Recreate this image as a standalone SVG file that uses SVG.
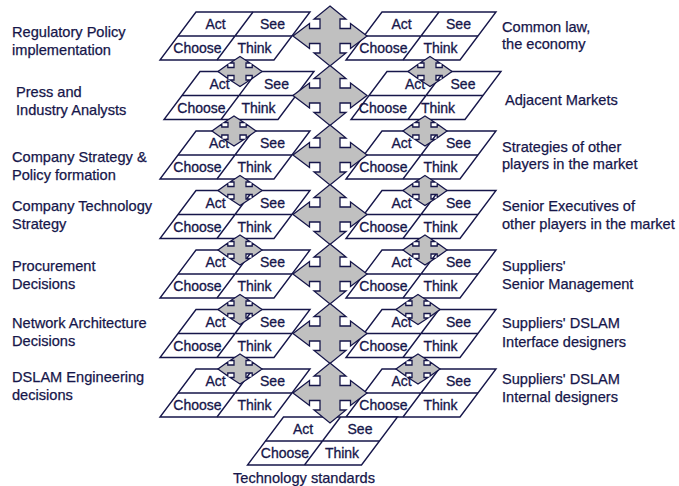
<svg xmlns="http://www.w3.org/2000/svg" xmlns:xlink="http://www.w3.org/1999/xlink" width="679" height="486" viewBox="0 0 679 486">
<style>
.t{font-family:"Liberation Sans",Arial,sans-serif;font-size:14px;fill:#16164a;stroke:#16164a;stroke-width:0.3;text-anchor:middle}
.l{font-family:"Liberation Sans",Arial,sans-serif;font-size:14.6px;fill:#16164a;stroke:#16164a;stroke-width:0.25}
.tile{fill:#fff;stroke:#16164a;stroke-width:1.4;stroke-linejoin:miter}
.tl{fill:none;stroke:#16164a;stroke-width:1.4}
.x{fill:#c0c0c0;stroke:#16164a;stroke-width:1.3;stroke-linejoin:miter}
</style>
<defs>
<g id="tile">
<path class="tile" d="M36,0 H150 L114,48 H0 Z"/>
<path class="tl" d="M18,24 H132 M93,0 L57,48"/>
</g>
<path id="big" d="M0,-30 L16,-17 L10,-17 L10,-7.5 L20.5,-7.5 L20.5,-12.5 L37,0 L20.5,12.5 L20.5,7.5 L10,7.5 L10,17 L16,17 L0,30 L-16,17 L-10,17 L-10,7.5 L-20.5,7.5 L-20.5,12.5 L-37,0 L-20.5,-12.5 L-20.5,-7.5 L-10,-7.5 L-10,-17 L-16,-17 Z"/>
<path id="small" d="M0,-15 L10,-8.5 L6,-8.5 L6,-4 L12.2,-4 L12.2,-7 L22,0 L12.2,7 L12.2,4 L6,4 L6,8.5 L10,8.5 L0,15 L-10,8.5 L-6,8.5 L-6,4 L-12.2,4 L-12.2,7 L-22,0 L-12.2,-7 L-12.2,-4 L-6,-4 L-6,-8.5 L-10,-8.5 Z"/>
</defs>

<g id="labels">
<text class="l" x="12" y="37">Regulatory Policy</text>
<text class="l" x="12" y="55">implementation</text>
<text class="l" x="16" y="97">Press and</text>
<text class="l" x="16" y="115">Industry Analysts</text>
<text class="l" x="12" y="162">Company Strategy &amp;</text>
<text class="l" x="12" y="180">Policy formation</text>
<text class="l" x="12" y="211">Company Technology</text>
<text class="l" x="12" y="229">Strategy</text>
<text class="l" x="12" y="271">Procurement</text>
<text class="l" x="12" y="289">Decisions</text>
<text class="l" x="12" y="328">Network Architecture</text>
<text class="l" x="12" y="346">Decisions</text>
<text class="l" x="12" y="382">DSLAM Engineering</text>
<text class="l" x="12" y="400">decisions</text>
<text class="l" x="502" y="32">Common law,</text>
<text class="l" x="502" y="49">the economy</text>
<text class="l" x="505" y="105">Adjacent Markets</text>
<text class="l" x="502" y="152">Strategies of other</text>
<text class="l" x="502" y="169">players in the market</text>
<text class="l" x="502" y="211">Senior Executives of</text>
<text class="l" x="502" y="229">other players in the market</text>
<text class="l" x="502" y="271">Suppliers'</text>
<text class="l" x="502" y="289">Senior Management</text>
<text class="l" x="502" y="328">Suppliers' DSLAM</text>
<text class="l" x="502" y="347">Interface designers</text>
<text class="l" x="502" y="384">Suppliers' DSLAM</text>
<text class="l" x="502" y="402">Internal designers</text>
<text class="l" x="304" y="483" text-anchor="middle">Technology standards</text>
</g>

<g id="L1" transform="translate(160,12)"><use xlink:href="#tile"/><text class="t" x="55.5" y="17">Act</text><text class="t" x="112.5" y="17">See</text><text class="t" x="37.5" y="41">Choose</text><text class="t" x="94.5" y="41">Think</text></g>
<g id="L2" transform="translate(164,71.5)"><use xlink:href="#tile"/><text class="t" x="55.5" y="17">Act</text><text class="t" x="112.5" y="17">See</text><text class="t" x="37.5" y="41">Choose</text><text class="t" x="94.5" y="41">Think</text></g>
<g id="L3" transform="translate(160,131)"><use xlink:href="#tile"/><text class="t" x="59" y="17">Act</text><text class="t" x="112.5" y="17">See</text><text class="t" x="37.5" y="41">Choose</text><text class="t" x="94.5" y="41">Think</text></g>
<g id="L4" transform="translate(160,190.5)"><use xlink:href="#tile"/><text class="t" x="55.5" y="17">Act</text><text class="t" x="112.5" y="17">See</text><text class="t" x="37.5" y="41">Choose</text><text class="t" x="94.5" y="41">Think</text></g>
<g id="L5" transform="translate(160,250)"><use xlink:href="#tile"/><text class="t" x="55.5" y="17">Act</text><text class="t" x="112.5" y="17">See</text><text class="t" x="37.5" y="41">Choose</text><text class="t" x="94.5" y="41">Think</text></g>
<g id="L6" transform="translate(160,309.5)"><use xlink:href="#tile"/><text class="t" x="55.5" y="17">Act</text><text class="t" x="112.5" y="17">See</text><text class="t" x="37.5" y="41">Choose</text><text class="t" x="94.5" y="41">Think</text></g>
<g id="L7" transform="translate(160,369)"><use xlink:href="#tile"/><text class="t" x="55.5" y="17">Act</text><text class="t" x="112.5" y="17">See</text><text class="t" x="37.5" y="41">Choose</text><text class="t" x="94.5" y="41">Think</text></g>

<g id="R1" transform="translate(346,12)"><use xlink:href="#tile"/><text class="t" x="55.5" y="17">Act</text><text class="t" x="112.5" y="17">See</text><text class="t" x="37.5" y="41">Choose</text><text class="t" x="94.5" y="41">Think</text></g>
<g id="R2" transform="translate(351,71.5)"><use xlink:href="#tile"/><text class="t" x="64" y="17">Act</text><text class="t" x="112" y="17">See</text><text class="t" x="32" y="41">Choose</text><text class="t" x="87" y="41">Think</text></g>
<g id="R3" transform="translate(346,131)"><use xlink:href="#tile"/><text class="t" x="55.5" y="17">Act</text><text class="t" x="112.5" y="17">See</text><text class="t" x="37.5" y="41">Choose</text><text class="t" x="94.5" y="41">Think</text></g>
<g id="R4" transform="translate(346,190.5)"><use xlink:href="#tile"/><text class="t" x="55.5" y="17">Act</text><text class="t" x="112.5" y="17">See</text><text class="t" x="37.5" y="41">Choose</text><text class="t" x="94.5" y="41">Think</text></g>
<g id="R5" transform="translate(346,250)"><use xlink:href="#tile"/><text class="t" x="55.5" y="17">Act</text><text class="t" x="112.5" y="17">See</text><text class="t" x="37.5" y="41">Choose</text><text class="t" x="94.5" y="41">Think</text></g>
<g id="R6" transform="translate(346,309.5)"><use xlink:href="#tile"/><text class="t" x="55.5" y="17">Act</text><text class="t" x="112.5" y="17">See</text><text class="t" x="37.5" y="41">Choose</text><text class="t" x="94.5" y="41">Think</text></g>
<g id="R7" transform="translate(346,369)"><use xlink:href="#tile"/><text class="t" x="55.5" y="17">Act</text><text class="t" x="112.5" y="17">See</text><text class="t" x="37.5" y="41">Choose</text><text class="t" x="94.5" y="41">Think</text></g>

<g id="B" transform="translate(247.5,417)"><use xlink:href="#tile"/><text class="t" x="55.5" y="17">Act</text><text class="t" x="112.5" y="17">See</text><text class="t" x="37.5" y="41">Choose</text><text class="t" x="94.5" y="41">Think</text></g>

<g id="connectors" class="x">
<use xlink:href="#big" x="330" y="36"/>
<use xlink:href="#big" x="330" y="95.5"/>
<use xlink:href="#big" x="330" y="155"/>
<use xlink:href="#big" x="330" y="214.5"/>
<use xlink:href="#big" x="330" y="274"/>
<use xlink:href="#big" x="330" y="333.5"/>
<use xlink:href="#big" x="330" y="393"/>
<use xlink:href="#small" x="240" y="71.5"/>
<use xlink:href="#small" x="234" y="131"/>
<use xlink:href="#small" x="240" y="190.5"/>
<use xlink:href="#small" x="240" y="250"/>
<use xlink:href="#small" x="240" y="309.5"/>
<use xlink:href="#small" x="240" y="369"/>
<use xlink:href="#small" x="430" y="71.5"/>
<use xlink:href="#small" x="425" y="131"/>
<use xlink:href="#small" x="425" y="190.5"/>
<use xlink:href="#small" x="425" y="250"/>
<use xlink:href="#small" x="418" y="309.5"/>
<use xlink:href="#small" x="418" y="369"/>
</g>
</svg>
